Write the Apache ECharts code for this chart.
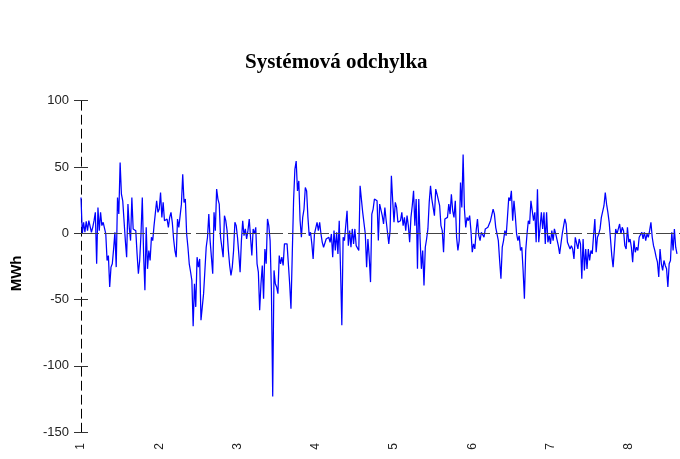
<!DOCTYPE html>
<html><head><meta charset="utf-8">
<script src="https://cdn.jsdelivr.net/npm/echarts@6/dist/echarts.min.js"></script>
<style>html,body{margin:0;padding:0;background:#fff}#c{width:680px;height:459px}</style>
</head><body><div id="c"></div>
<script>
const chartTitle = 'Systémová odchylka';
const yAxisName = 'MWh';
const dayLabels = ['1','2','3','4','5','6','7','8'];
const startDay = 1;
const samplesPerDay = 60;

const seg1 = [
27, -0.5, 8.3, 0.8, 9, 2, 9.5, 8.3, 0.8, 4.5,
9.5, 15.8, -23, 19.5, 2, 15.8, 5.8, 8.3, 9.5, -0.5,
-20.5, -16.8, -40.5, -25.5, -23, -11.8, 0.8, -25.5, 27, 14.5,
53.3, 29.5, 24.5, 9.5, -5.5, -18, 22, 4.5, -5.5, 27,
3.3, 4.5, 2, -15.5, -30.5, -20.5, -0.5, 27, -15.5, -43, 4.5,
-26.8, -13, -20.5, -3, -5.5, 5.8, 4.5, 24.5, 15.8, 18.3,
30.8, 12, 23.3, 9.5, 8.3, 10.8, 4.5, 12, 15.8, 8.3, -4.3,
-13, -18, 10.8, 4.5, 5.8, 22, 44.5, 23.3, 25.8, -0.5,
-10.5, -23, -29, -35.5, -70, -38, -55.5, -18, -25.5, -19.3, -65.5,
-55.5, -45.5, -28, -10.5, -3, 14.5, -5.5, -18, -30.5, 15.8,
2, 33.3, 25.8, 22, -3, -1.8, -18, 13.3, 9.5, 2, -13
];
const seg2 = [
-24.3, -31.8, -25.5, -13, 8.3, 5.8, -3, -15.5, -29.3, -5.5,
9.5, -1.8, 3.3, -4.3, 2, 10.8, -3, -16.8, 3.3, -0.5,
4.5, -23, -29.3, -58, -38, -24.3, -49.3, -11.8, -23, 10.8,
5.8, -5.5, -43, -123, -28, -38, -40.5, -45.5, -16.8, -23,
-18, -24.3, -8, -8, -8, -23, -38, -56.8, -15.5, 24.5,
48.3, 54.5, 32, 39.5, 9.5, -3, 12, 18.3, 34.5, 32,
12, -1.8, 0.8, -8, -19.3, -0.5, -1.8, 8.3, 2, 8.3,
-0.5, -6.8, -10.5, -11.8, -4.3, -5.5, -3, -6.8, -0.5, -18,
2, -13, 0.8, -15.5, 9.5, -26.8, -69.3, -3, -5.5, -4.3,
17, -9.3, 2, -10.5, 3.3, -8, 3.3, -9.3, -8, -13,
35.8, 37, 15.8, 14.5, -0.5, -25.5, -4.3, -18, -36.8, 14.5,
18.3, 25.8, 27, 24.5, -5.5
];
const seg3 = [
22, 20.8, 13.3, 7, 19.5, 9.5, 0.8, -8, 2, 43.3,
24.5, 8.3, 23.3, 19.5, 8.3, 7, 9.5, 15.8, 5.8, 12,
2, 13.3, 5.8, -6.8, 12, 20.8, 32, 5.8, 25.8, -26.8,
25.8, -4.3, -26.8, -13, -39.3, -10.5, -4.3, 3.3, 23.3, 35.8,
25.8, 27, 13.3, 33.3, 29.5, 30.8, 20.8, 5.8, 2, -14.3,
10.8, 9.5, 12, 22, 14.5, 29.5, 17, 12, 24.5, -3,
-13, -5.5, 38.3, 19.5, 59.5,
18.3, 4.5, 12, 9.5, 13.3, 2, -14.3, -8, -11.8, 2,
10.8, -1.8, -5.5, 0.8, 2, -3, 3.3, 2, 4.5, 3.3,
9.5, 10.8, 18.3, 14.5, 4.5, 5.8, -5.5, -20.5, -34.3, -10.5,
-5.5, 2, -1.8, 12, 27, 24.5, 32, 9.5, 24.5, 13.3,
-0.5, -5.5, -1.8, -13, -10.5, -28, -49.3, -13, -0.5, 9.5
];
const seg4 = [
7, 24.5, 25.8, 9.5, 15.8, -6.8, 33.3, -6.8, -6.8, 15.8,
3.3, 15.8, -8, 15.8, -6.8, -1.8, -8, 2, -5.5, 3.3,
-0.5, 0.8, -9.3, -15.5, -8, -0.5, -0.5, 10.8, 7, -6.8,
-8, -11.8, -9.3, -11.8, -19.3, -3, -4.3, -11.8, -4.3, -8,
-34.3, -4.3, -28, -11.8, -26.8, -11.8, -20.5, -13, -15.5, -1.8,
10.8, -14.3, -3, -0.5, 3.3, 12, 10.8, 20.8, 30.8, 22,
15.8, 8.3, -4.3, -16.8, -25.5, -11.8, 3.3, -0.5, 3.3, 7,
-0.5, 4.5, 2, -9.3, -11.8, 4.5, -6.8, -4.3, -10.5, -21.8,
-5.5, -14.3, -10.5, -13, -3, -4.3, 0.8, -4.3, 0.8, -5.5,
-0.5, -3, 2, 8.3, -3, -9.3, -13, -18, -21.8, -33,
-11.8, -23, -28, -20.5, -24.3, -26.8, -40.5, -23, -20.5, 0.8,
-13, 3.3, -10.5, -15.5
];

const values = seg1.concat(seg2, seg3, seg4);
const points = values.map((v, i) => [startDay + i / samplesPerDay, v]);

const chart = echarts.init(document.getElementById('c'), null, {renderer: 'canvas'});
const sans = 'Liberation Sans, Arial, sans-serif';
chart.setOption({
  animation: false,
  backgroundColor: '#fff',
  title: {
    text: chartTitle, left: 240, top: 47,
    textStyle: {fontFamily: 'Liberation Serif, Times New Roman, serif', fontWeight: 'bold', fontSize: 21, color: '#000'}
  },
  grid: {left: 81, right: 0, top: 100.7, bottom: 26.8, containLabel: false},
  xAxis: {
    type: 'value', min: 1, max: 8.655, interval: 1,
    axisLine: {show: false}, axisTick: {show: false}, splitLine: {show: false},
    axisLabel: {
      rotate: 90, margin: 11, fontSize: 12, fontFamily: sans, color: '#222',
      showMaxLabel: false,
      formatter: v => { const k = Math.round(v); return (Math.abs(v - k) < 1e-6 && dayLabels[k - 1]) ? dayLabels[k - 1] : ''; }
    }
  },
  yAxis: [{
    type: 'value', min: -150, max: 100, interval: 50,
    name: yAxisName, nameLocation: 'middle', nameGap: 57,
    nameTextStyle: {fontFamily: sans, fontWeight: 'bold', fontSize: 15, color: '#000', padding: [0, 14, 0, 0]},
    axisLine: {show: true, lineStyle: {color: '#000', width: 1, type: [9, 5]}},
    axisTick: {show: true, length: 7, lineStyle: {color: '#333', width: 1}},
    axisLabel: {fontSize: 13, fontFamily: sans, color: '#222', margin: 12},
    splitLine: {show: false}
  }, {
    type: 'value', min: -150, max: 100, interval: 50, position: 'left',
    axisLine: {show: false},
    axisTick: {show: true, inside: true, length: 7, lineStyle: {color: '#333', width: 1}},
    axisLabel: {show: false}, splitLine: {show: false}
  }],
  series: [{
    type: 'line', data: points, showSymbol: false, symbol: 'none',
    lineStyle: {color: '#0000ff', width: 1.25},
    markLine: {
      silent: true, symbol: 'none', label: {show: false},
      lineStyle: {color: '#444', width: 1.2, type: [18, 5]},
      data: [{yAxis: 0}]
    },
    z: 3
  }]
});
</script></body></html>
